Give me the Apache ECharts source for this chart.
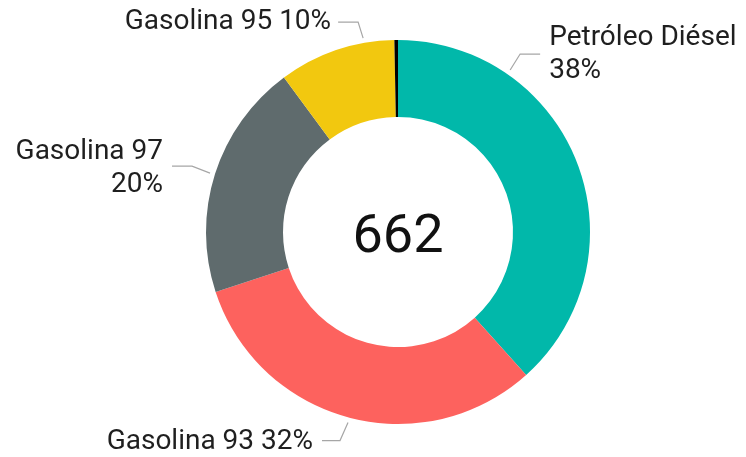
<!DOCTYPE html>
<html>
<head>
<meta charset="utf-8">
<script src="https://cdn.jsdelivr.net/npm/echarts@6/dist/echarts.min.js"></script>
<style>
  html, body { margin: 0; padding: 0; background: #fff; }
  #chart { width: 746px; height: 457px; }
</style>
</head>
<body>
<div id="chart"></div>
<script>
// ---- data ----
const categories = ['Petróleo Diésel', 'Gasolina 93', 'Gasolina 97', 'Gasolina 95', 'Otros'];
const values = [254, 209, 132, 65, 2];
const colors = ['#01B8AA', '#FD625E', '#5F6B6D', '#F2C80F', '#000000'];
const labelBreaks = ['\n', ' ', '\n', ' ', ' '];
const showLabel = [true, true, true, true, false];

// ---- layout/style ----
const CX = 398, CY = 232, R_IN = 115, R_OUT = 192;
const FONT = 'Roboto, "Noto Sans", sans-serif';
// leader geometry in polar terms relative to ring
const LEADERS = [
  { ang: 34.7,  r: 197, e: [10, -16], h: 20,  gap: 9, align: 'left',  dy: 0 },
  { ang: 194.7, r: 197, e: [-8, 18],  h: -18, gap: 9, align: 'right', dy: 1 },
  { ang: 287.4, r: 197, e: [-18, -7], h: -20, gap: 9, align: 'right', dy: 2 },
  { ang: 349.8, r: 197, e: [-5, -16], h: -20, gap: 7, align: 'right', dy: 0 },
  null
];

const total = values.reduce((a, b) => a + b, 0);

const chart = echarts.init(document.getElementById('chart'), null, { renderer: 'canvas' });

const data = categories.map((name, i) => ({
  name,
  value: values[i],
  itemStyle: { color: colors[i] },
  label: { show: showLabel[i] },
  labelLine: { show: showLabel[i] }
}));

chart.setOption({
  animation: false,
  backgroundColor: '#ffffff',
  series: [{
    type: 'pie',
    center: [CX, CY],
    radius: [R_IN, R_OUT],
    startAngle: 90,
    clockwise: true,
    percentPrecision: 0,
    avoidLabelOverlap: false,
    itemStyle: { borderWidth: 0 },
    label: {
      show: true,
      position: 'outside',
      color: '#1f1f1f',
      fontFamily: FONT,
      fontSize: 28,
      lineHeight: 33,
      formatter: p => p.name + labelBreaks[p.dataIndex] + p.percent + '%'
    },
    labelLine: {
      show: true,
      lineStyle: { color: '#A6A6A6', width: 1.2 }
    },
    labelLayout: function (params) {
      const L = LEADERS[params.dataIndex];
      if (!L) return {};
      const a = L.ang * Math.PI / 180;
      const p0 = [CX + L.r * Math.sin(a), CY - L.r * Math.cos(a)];
      const p1 = [p0[0] + L.e[0], p0[1] + L.e[1]];
      const p2 = [p1[0] + L.h, p1[1]];
      const tx = L.align === 'left' ? p2[0] + L.gap : p2[0] - L.gap;
      return {
        x: tx,
        y: p2[1] + L.dy,
        align: L.align,
        verticalAlign: 'middle',
        labelLinePoints: [p0, p1, p2]
      };
    },
    data
  }],
  graphic: [{
    type: 'text',
    x: CX,
    y: CY + 6,
    style: {
      text: String(total),
      fontFamily: FONT,
      fontSize: 54,
      fill: '#111111',
      align: 'center',
      verticalAlign: 'middle'
    }
  }]
});
</script>
</body>
</html>
